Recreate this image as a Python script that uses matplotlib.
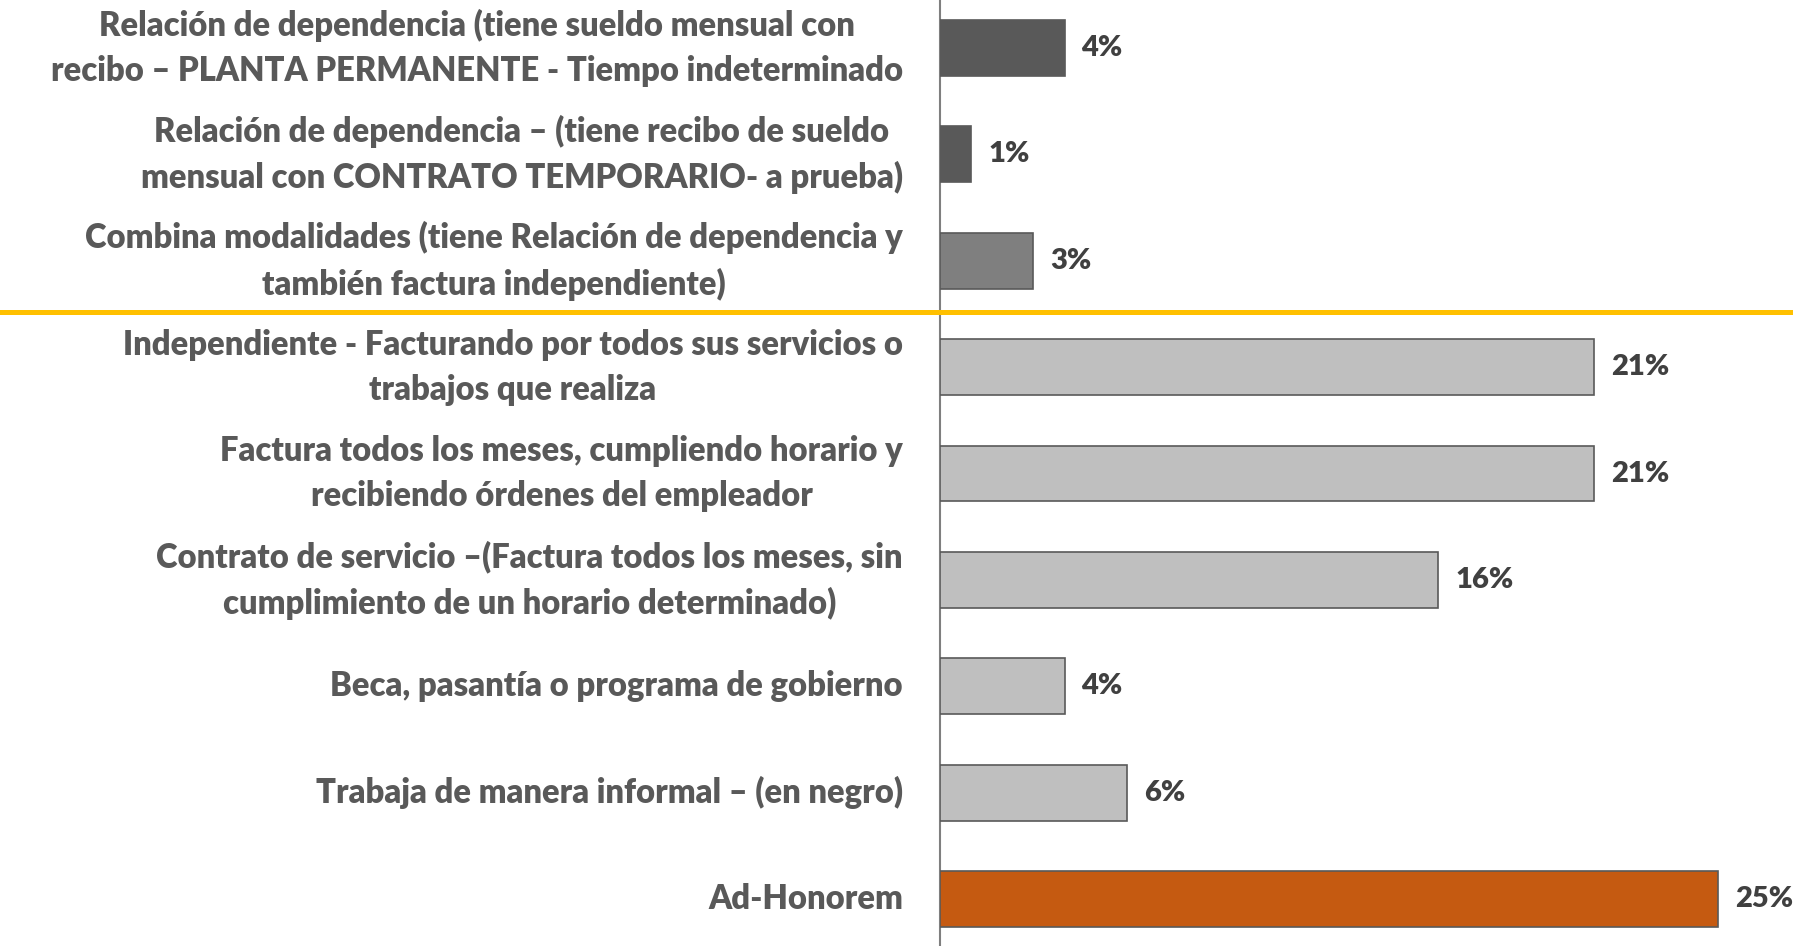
import matplotlib
matplotlib.use("Agg")
import matplotlib.pyplot as plt
import matplotlib.transforms as mtransforms
from matplotlib.lines import Line2D

categories = [
    "Relación de dependencia (tiene sueldo mensual con\nrecibo – PLANTA PERMANENTE - Tiempo indeterminado",
    "Relación de dependencia – (tiene recibo de sueldo\nmensual con CONTRATO TEMPORARIO- a prueba)",
    "Combina modalidades (tiene Relación de dependencia y\ntambién factura independiente)",
    "Independiente - Facturando por todos sus servicios o\ntrabajos que realiza",
    "Factura todos los meses, cumpliendo horario y\nrecibiendo órdenes del empleador",
    "Contrato de servicio –(Factura todos los meses, sin\ncumplimiento de un horario determinado)",
    "Beca, pasantía o programa de gobierno",
    "Trabaja de manera informal – (en negro)",
    "Ad-Honorem",
]
values = [4, 1, 3, 21, 21, 16, 4, 6, 25]
value_labels = ["4%", "1%", "3%", "21%", "21%", "16%", "4%", "6%", "25%"]
bar_colors = ["#595959", "#595959", "#7F7F7F", "#BFBFBF", "#BFBFBF",
              "#BFBFBF", "#BFBFBF", "#BFBFBF", "#C55A11"]

plt.rcParams['font.family'] = ['Lato', 'DejaVu Sans']

W, H = 1793, 946
fig = plt.figure(figsize=(W / 100, H / 100), dpi=100)
ax_left = 940 / W
ax = fig.add_axes([ax_left, 0, 1 - ax_left, 1])

ypos = list(range(len(categories)))
ax.barh(ypos, values, height=0.525, color=bar_colors,
        edgecolor="#595959", linewidth=1.2, zorder=3)

ax.set_ylim(8.44, -0.45)
ax.set_xlim(0, 27.4)

for s in ["top", "right", "bottom"]:
    ax.spines[s].set_visible(False)
ax.spines["left"].set_color("#7F7F7F")
ax.spines["left"].set_linewidth(1.5)
ax.set_xticks([])
ax.set_yticks([])

label_tr = mtransforms.blended_transform_factory(fig.transFigure, ax.transData)
for y, lab in zip(ypos, categories):
    ax.text(903 / W, y, lab, transform=label_tr, ha="right", va="center",
            multialignment="center", fontsize=23.6, fontweight="heavy",
            color="#595959", linespacing=1.5)

for y, v, vl in zip(ypos, values, value_labels):
    ax.annotate(vl, xy=(v, y), xytext=(17, 0), textcoords="offset pixels",
                ha="left", va="center", fontsize=21, fontweight="heavy",
                color="#404040")

# separator line between groups
sep = Line2D([0, 1], [2.48, 2.48], transform=label_tr, color="#FFC000",
             linewidth=3.6, clip_on=False, zorder=4)
fig.add_artist(sep)

fig.savefig("out.png", dpi=100)
